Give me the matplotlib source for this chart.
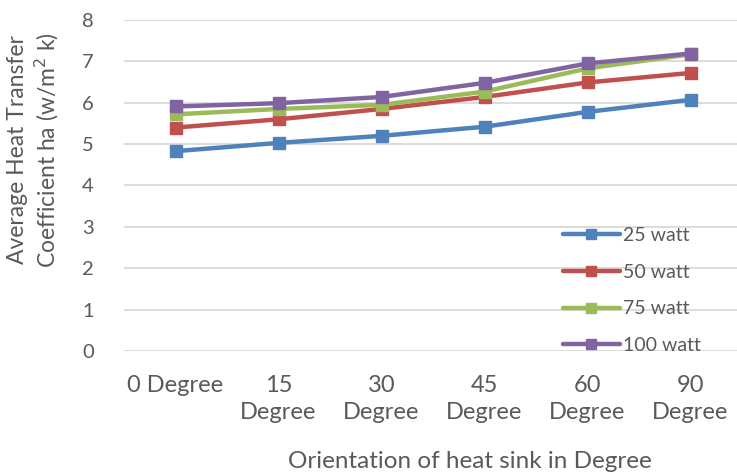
import numpy as np
import matplotlib.pyplot as plt

plt.rcParams['font.family'] = ['Lato', 'DejaVu Sans']

categories = ["0 Degree", "15\nDegree", "30\nDegree", "45\nDegree", "60\nDegree", "90\nDegree"]
watt_25 = [4.83, 5.03, 5.20, 5.42, 5.78, 6.07]
watt_50 = [5.40, 5.60, 5.85, 6.14, 6.49, 6.72]
watt_75 = [5.72, 5.85, 5.95, 6.27, 6.83, 7.17]
watt_100 = [5.91, 5.99, 6.14, 6.48, 6.95, 7.19]
labels = ["25 watt", "50 watt", "75 watt", "100 watt"]

colors = ["#4F81BD", "#C0504D", "#9BBB59", "#8064A2"]
grey = "#595959"

W, H = 737, 473
fig = plt.figure(figsize=(W / 100, H / 100), dpi=100)
# plot area: gridlines run from x=124 to past the right edge, y=20..351
ax = fig.add_axes([124 / W, 1 - 351 / H, 618 / W, 331 / H])

x = np.arange(len(categories))
for ys, lab, c in zip([watt_25, watt_50, watt_75, watt_100], labels, colors):
    ax.plot(x, ys, color=c, linewidth=3.2, marker="s", markersize=9,
            solid_capstyle="round", label=lab)

ax.set_xlim(-0.5, len(categories) - 0.5)
ax.set_ylim(0, 8)
ax.set_yticks(range(0, 9))
ax.set_xticks(x)
ax.set_xticklabels(categories, fontsize=17, color=grey, va="top", linespacing=1.35)
ax.tick_params(axis="x", length=0, pad=17.5)
ax.tick_params(axis="y", length=0, pad=26, labelsize=14.5, labelcolor=grey)
for lab in ax.get_yticklabels():
    lab.set_horizontalalignment("center")

ax.grid(axis="y", color="#D9D9D9", linewidth=1.3)
ax.set_axisbelow(True)
for s in ax.spines.values():
    s.set_visible(False)

fig.text(34 / W, 1 - 150 / H,
         "Average Heat Transfer\nCoefficient ha (w/m$^2$ k)",
         rotation=90, ha="center", va="center", multialignment="center",
         fontsize=16.5, color=grey, linespacing=1.25)
fig.text(470 / W, 1 - 468 / H, "Orientation of heat sink in Degree",
         ha="center", va="baseline", fontsize=17.5, color=grey)

leg = ax.legend(loc="upper left", bbox_to_anchor=(555 / W, 1 - 219 / H),
                bbox_transform=fig.transFigure, frameon=False,
                fontsize=14, labelspacing=1.02, handlelength=2.95,
                handletextpad=0.15, markerscale=0.85, borderaxespad=0)
for t in leg.get_texts():
    t.set_color(grey)

plt.savefig("out.png", dpi=100)
